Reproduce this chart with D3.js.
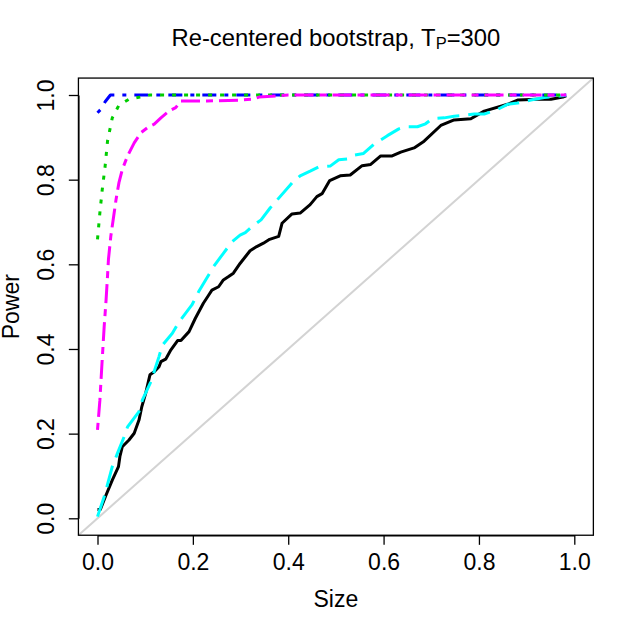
<!DOCTYPE html>
<html>
<head>
<meta charset="utf-8">
<script src="https://cdn.jsdelivr.net/npm/d3@7"></script>
<style>
    body { margin: 0; background: #fff; }
    text { font-family: "Liberation Sans", Arial, sans-serif; fill: #000; }
</style>
</head>
<body>
<div id="chart"></div>
<script>
const WIDTH = 636;
const HEIGHT = 633;

const X_TICKS = [0, 0.2, 0.4, 0.6, 0.8, 1.0];
const Y_TICKS = [0, 0.2, 0.4, 0.6, 0.8, 1.0];

// solid black
const blackSize = [0, 0.006, 0.018, 0.031, 0.044, 0.047, 0.052, 0.066, 0.077, 0.087, 0.093, 0.101, 0.110, 0.119,
    0.129, 0.133, 0.143, 0.154, 0.168, 0.175, 0.192, 0.205, 0.222, 0.233, 0.240, 0.254, 0.264, 0.275, 0.285,
    0.299, 0.313, 0.320, 0.334, 0.348, 0.361, 0.380, 0.387, 0.408, 0.425, 0.446, 0.460, 0.471, 0.487, 0.509,
    0.530, 0.555, 0.573, 0.594, 0.618, 0.636, 0.664, 0.685, 0.720, 0.748, 0.783, 0.811, 0.860, 0.881, 0.923,
    0.951, 0.976, 0.983];
const blackPower = [0.021, 0.021, 0.055, 0.090, 0.122, 0.146, 0.169, 0.185, 0.201, 0.232, 0.264, 0.295, 0.339, 0.346,
    0.358, 0.370, 0.376, 0.398, 0.420, 0.420, 0.441, 0.472, 0.508, 0.527, 0.539, 0.547, 0.563, 0.571, 0.579,
    0.602, 0.622, 0.632, 0.642, 0.650, 0.659, 0.666, 0.697, 0.719, 0.721, 0.741, 0.760, 0.767, 0.798, 0.809,
    0.811, 0.833, 0.836, 0.856, 0.856, 0.865, 0.875, 0.891, 0.928, 0.941, 0.944, 0.962, 0.978, 0.988, 0.990,
    0.990, 0.995, 0.998];

// long dash cyan
const cyanSize = [0, 0.014, 0.031, 0.042, 0.056, 0.063, 0.087, 0.094, 0.112, 0.129, 0.136, 0.157, 0.171, 0.198,
    0.212, 0.229, 0.243, 0.264, 0.282, 0.299, 0.310, 0.324, 0.343, 0.362, 0.408, 0.425, 0.446, 0.464, 0.488,
    0.506, 0.524, 0.538, 0.558, 0.579, 0.608, 0.632, 0.646, 0.671, 0.688, 0.702, 0.727, 0.748, 0.769, 0.790,
    0.811, 0.839, 0.860, 0.881, 0.909, 0.937, 0.962, 0.983];
const cyanPower = [0.004, 0.051, 0.122, 0.154, 0.193, 0.216, 0.252, 0.279, 0.323, 0.382, 0.409, 0.437, 0.464, 0.504,
    0.535, 0.567, 0.594, 0.626, 0.653, 0.669, 0.675, 0.689, 0.705, 0.733, 0.792, 0.809, 0.820, 0.830, 0.832,
    0.847, 0.849, 0.858, 0.862, 0.883, 0.904, 0.920, 0.925, 0.925, 0.932, 0.944, 0.946, 0.950, 0.952, 0.955,
    0.955, 0.966, 0.978, 0.981, 0.988, 0.994, 0.997, 0.999];

// twodash magenta
const magentaSize = [0, 0.005, 0.009, 0.014, 0.018, 0.021, 0.023, 0.028, 0.034, 0.039, 0.045, 0.052, 0.063, 0.077,
    0.091, 0.105, 0.119, 0.133, 0.150, 0.164, 0.175, 0.230, 0.300, 0.325, 0.339, 0.400, 0.983];
const magentaPower = [0.209, 0.279, 0.358, 0.453, 0.516, 0.572, 0.612, 0.667, 0.714, 0.754, 0.793, 0.824, 0.856, 0.887,
    0.911, 0.923, 0.931, 0.946, 0.962, 0.970, 0.986, 0.986, 0.988, 0.990, 0.995, 1.0, 1.0];

// dotted green
const greenSize = [0, 0.005, 0.010, 0.016, 0.021, 0.031, 0.045, 0.066, 0.089, 0.110, 0.983];
const greenPower = [0.659, 0.722, 0.777, 0.832, 0.891, 0.946, 0.976, 0.990, 0.995, 1.0, 1.0];

// dot-dash blue
const blueSize = [0, 0.006, 0.016, 0.027, 0.983];
const bluePower = [0.958, 0.965, 0.984, 1.0, 1.0];

const series = [
    { size: blackSize, power: blackPower, color: "#000000", dash: null },
    { size: cyanSize, power: cyanPower, color: "#00FFFF", dash: "22,9" },
    { size: blueSize, power: bluePower, color: "#0000FF", dash: "4,8,14,8" },
    { size: greenSize, power: greenPower, color: "#00CD00", dash: "4,8" },
    { size: magentaSize, power: magentaPower, color: "#FF00FF", dash: "7,6,19,6" }
];

const xScale = d3.scaleLinear().domain([0, 1]).range([97.5, 574.3]);
const yScale = d3.scaleLinear().domain([0, 1]).range([518.3, 95]);

const svg = d3.select("#chart")
    .append("svg")
    .attr("width", WIDTH)
    .attr("height", HEIGHT);

svg.append("rect").attr("width", WIDTH).attr("height", HEIGHT).attr("fill", "#fff");

const boxLeft = xScale(-0.04), boxRight = xScale(1.04);
const boxTop = yScale(1.04), boxBottom = yScale(-0.04);

// 45 degree reference line, corner to corner
svg.append("line")
    .attr("x1", xScale(-0.04)).attr("y1", yScale(-0.04))
    .attr("x2", xScale(1.04)).attr("y2", yScale(1.04))
    .attr("stroke", "#D3D3D3")
    .attr("stroke-width", 2);

const lineGenerator = d3.line()
    .x(d => xScale(d[0]))
    .y(d => yScale(d[1]));

series.forEach(s => {
    const pts = s.size.map((v, i) => [v, s.power[i]]);
    svg.append("path")
        .datum(pts)
        .attr("fill", "none")
        .attr("stroke", s.color)
        .attr("stroke-width", 3)
        .attr("stroke-linejoin", "round")
        .attr("stroke-dasharray", s.dash)
        .attr("d", lineGenerator);
});

svg.append("rect")
    .attr("x", boxLeft).attr("y", boxTop)
    .attr("width", boxRight - boxLeft).attr("height", boxBottom - boxTop)
    .attr("fill", "none")
    .attr("stroke", "#000")
    .attr("stroke-width", 1.3);

const xAxis = svg.append("g")
    .attr("transform", `translate(0,${boxBottom})`)
    .call(d3.axisBottom(xScale).tickValues(X_TICKS).tickFormat(d3.format(".1f")).tickSize(9.6).tickSizeOuter(0));
xAxis.select(".domain").attr("stroke-width", 1.3);
xAxis.selectAll(".tick line").attr("stroke-width", 1.3);
xAxis.selectAll(".tick text")
    .attr("y", 34.3)
    .attr("dy", null)
    .attr("fill", "#000")
    .style("font-size", "23px")
    .style("font-family", "'Liberation Sans', Arial, sans-serif");

const yAxis = svg.append("g")
    .attr("transform", `translate(${boxLeft},0)`)
    .call(d3.axisLeft(yScale).tickValues(Y_TICKS).tickFormat(d3.format(".1f")).tickSize(9.6).tickSizeOuter(0));
yAxis.select(".domain").attr("stroke-width", 1.3);
yAxis.selectAll(".tick line").attr("stroke-width", 1.3);
yAxis.selectAll(".tick text")
    .attr("transform", "rotate(-90)")
    .attr("x", 0)
    .attr("y", -24)
    .attr("dy", null)
    .attr("text-anchor", "middle")
    .attr("fill", "#000")
    .style("font-size", "23px")
    .style("font-family", "'Liberation Sans', Arial, sans-serif");

const midX = (boxLeft + boxRight) / 2;
const midY = (boxTop + boxBottom) / 2;

svg.append("text")
    .attr("x", midX)
    .attr("y", 607.3)
    .attr("text-anchor", "middle")
    .style("font-size", "23px")
    .text("Size");

svg.append("text")
    .attr("transform", `translate(19,${midY}) rotate(-90)`)
    .attr("text-anchor", "middle")
    .style("font-size", "23px")
    .text("Power");

const title = svg.append("text")
    .attr("x", midX)
    .attr("y", 46)
    .attr("text-anchor", "middle")
    .style("font-size", "23.8px");
title.append("tspan").text("Re-centered bootstrap, T");
title.append("tspan").attr("dy", 2.5).style("font-size", "16.5px").text("P");
title.append("tspan").attr("dy", -2.5).text("=300");
</script>
</body>
</html>
